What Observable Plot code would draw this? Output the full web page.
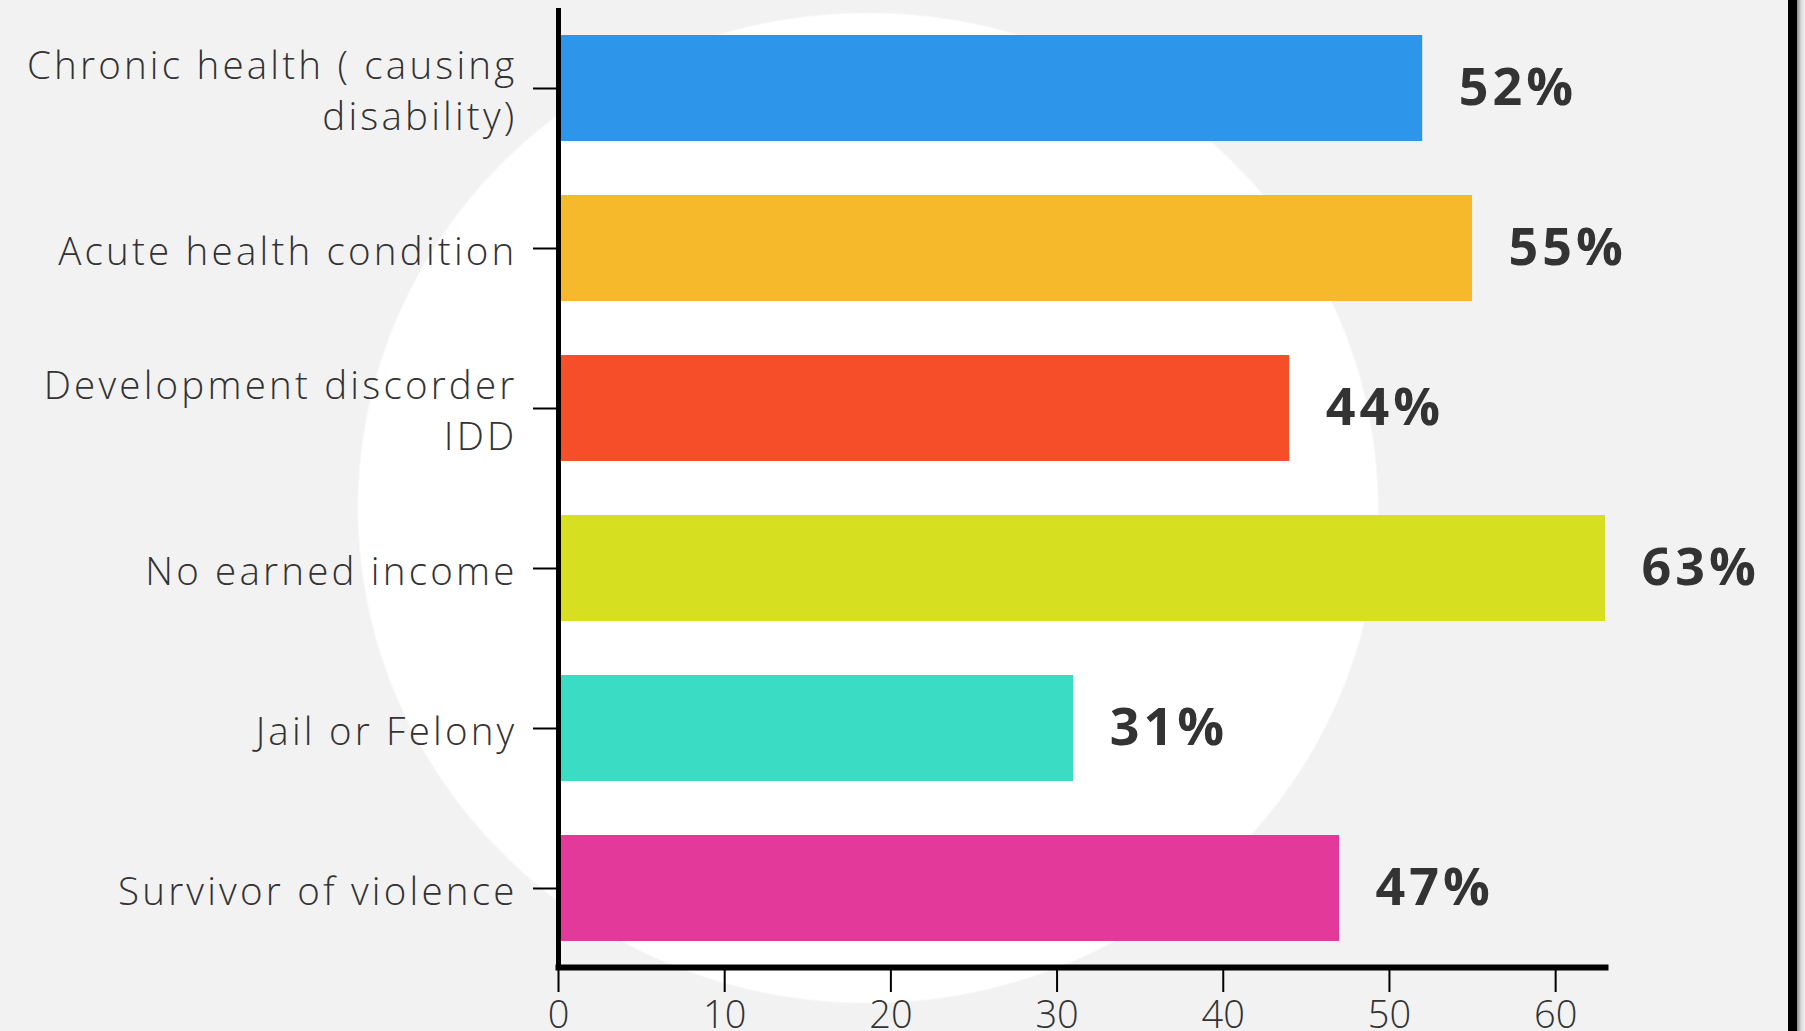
<!DOCTYPE html>
<html>
<head>
<meta charset="utf-8">
<script src="https://cdn.jsdelivr.net/npm/d3@7"></script>
<script src="https://cdn.jsdelivr.net/npm/@observablehq/plot@0.6"></script>
<style>
  html, body { margin: 0; padding: 0; overflow: hidden; background: #f2f2f2; }
  #wrap {
    position: relative; width: 1805px; height: 1031px;
    background: radial-gradient(511px 496px at 868px 508px, #ffffff 99.6%, #f2f2f2 100%);
  }
  #border {
    position: absolute; left: 1788px; top: 0; width: 9px; height: 1031px; background: #000;
  }
  #shadow {
    position: absolute; left: 1797px; top: 0; width: 8px; height: 1031px;
    background: linear-gradient(to right, #8a8a8a, #d8d8d8, #f2f2f2);
  }
  #chart svg { position: absolute; left: 0; top: 0; }
  #chart svg g[aria-label="y-axis tick label"] text { letter-spacing: 3.2px; }
  #chart svg g[aria-label="text"] text { letter-spacing: 4px; }
</style>
</head>
<body>
<div id="wrap"><div id="chart"></div><div id="border"></div><div id="shadow"></div></div>
<script>
const categories = [
  "Chronic health ( causing\ndisability)",
  "Acute health condition",
  "Development discorder\nIDD",
  "No earned income",
  "Jail or Felony",
  "Survivor of violence"
];
const values = [52, 55, 44, 63, 31, 47];
const colors = ["#2D96EB", "#F6B92B", "#F74E2A", "#D6E021", "#3ADDC4", "#E3399A"];
const xTicks = [0, 10, 20, 30, 40, 50, 60];

const data = categories.map((c, i) => ({category: c, value: values[i], color: colors[i]}));

const font = "'Open Sans', sans-serif";

const chart = Plot.plot({
  width: 1805,
  height: 1031,
  marginLeft: 558,
  marginRight: 200,
  marginTop: 10,
  marginBottom: 64,
  style: {background: "transparent", fontFamily: font, color: "#333"},
  x: {domain: [0, 63]},
  y: {domain: categories, paddingInner: 0.336, paddingOuter: 0.15},
  marks: [
    Plot.barX(data, {y: "category", x: "value", fill: "color"}),
    Plot.text(data, {
      y: "category", x: "value", text: d => d.value + "%",
      textAnchor: "start", dx: 36, fontSize: 52, fontWeight: 700, fill: "#333",
      fontFamily: font
    }),
    Plot.axisY({
      tickSize: 25, tickPadding: 16, fontSize: 38.5, fontWeight: 300,
      lineHeight: 1.33, strokeWidth: 2, stroke: "#000", fill: "#333", label: null
    }),
    Plot.axisX({
      ticks: xTicks, tickSize: 25, tickPadding: 9, fontSize: 38, fontWeight: 300,
      strokeWidth: 2, stroke: "#000", fill: "#333", label: null
    }),
    Plot.frame({anchor: "left", stroke: "#000", strokeWidth: 5}),
    Plot.frame({anchor: "bottom", stroke: "#000", strokeWidth: 6})
  ]
});
document.getElementById("chart").appendChild(chart);
</script>
</body>
</html>
